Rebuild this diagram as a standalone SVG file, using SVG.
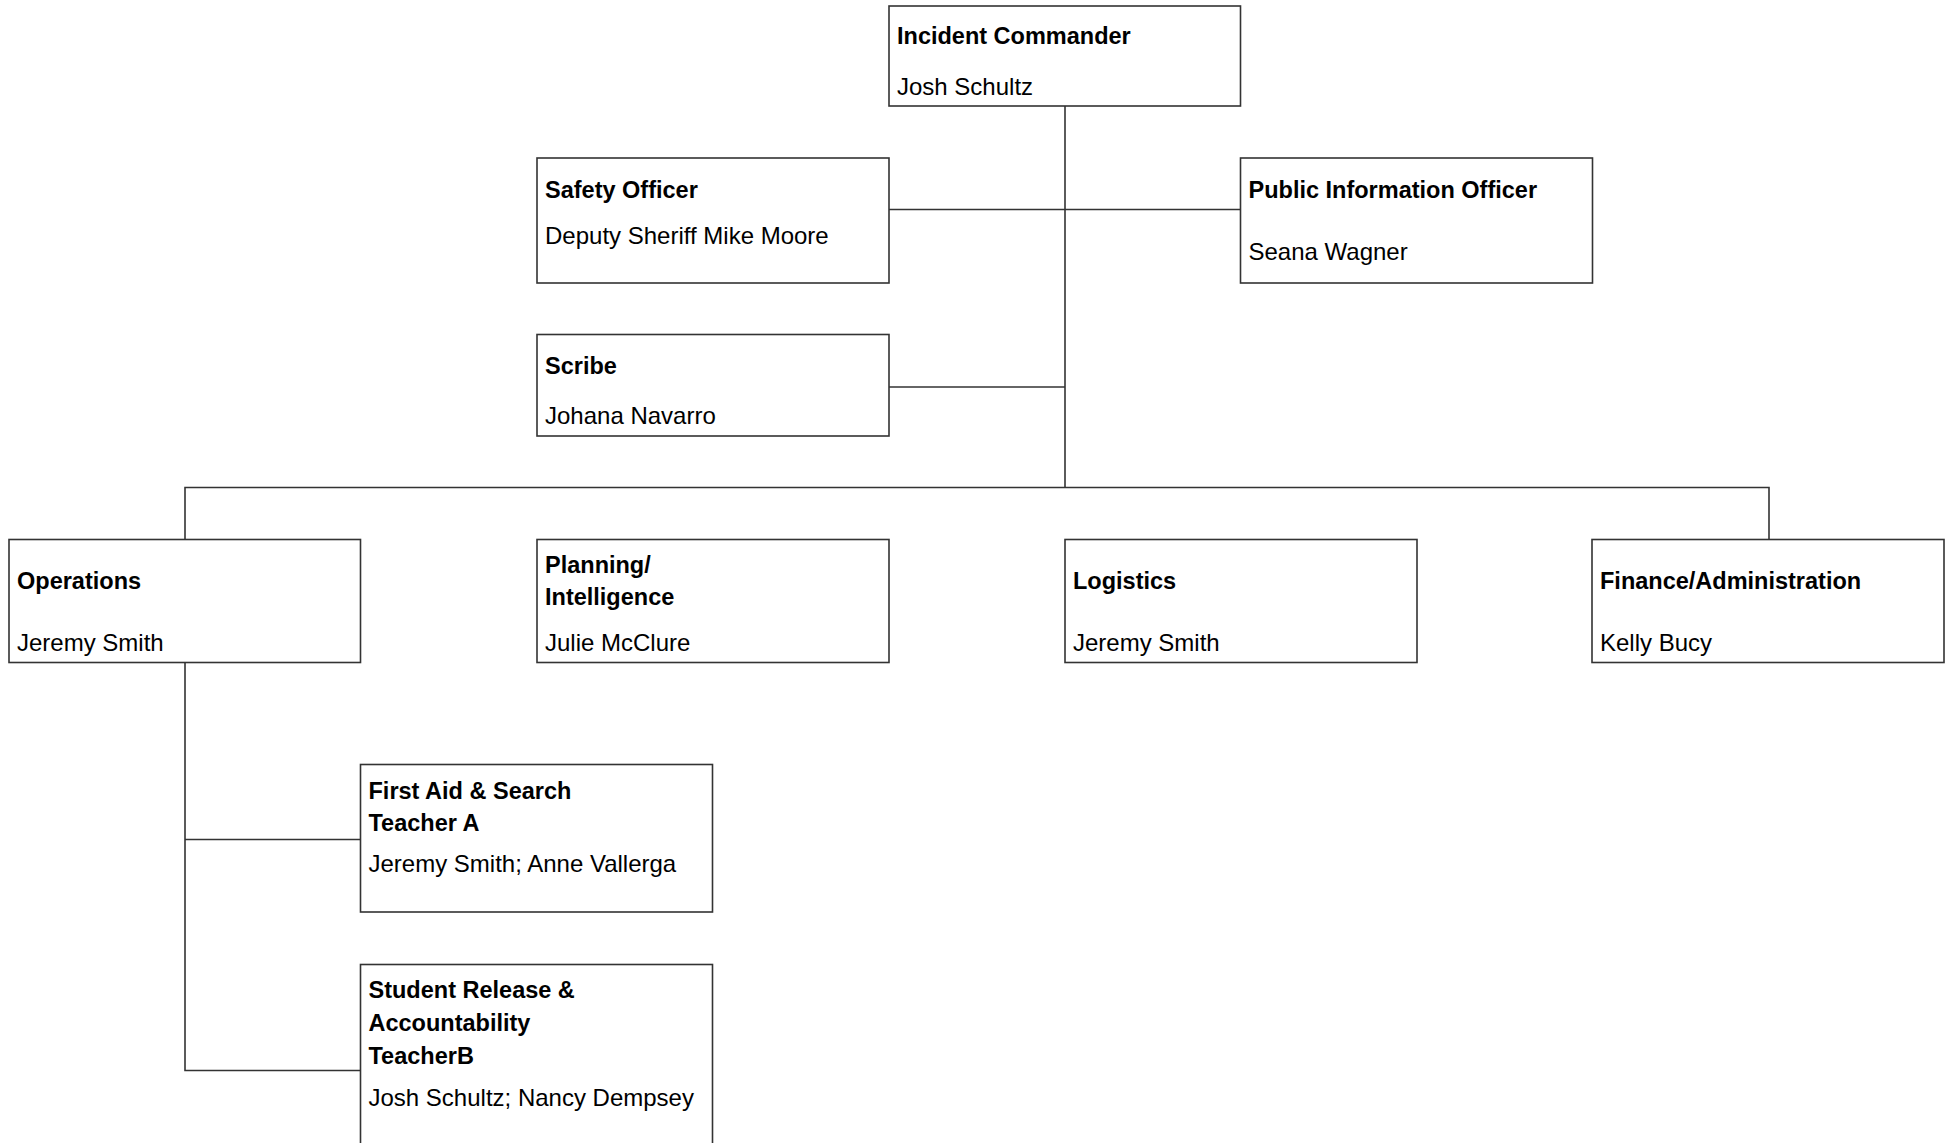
<svg xmlns="http://www.w3.org/2000/svg" width="1949" height="1143" viewBox="0 0 1949 1143">
<style>
.box{fill:#fff;stroke:#333;stroke-width:1.6}
.ln{fill:none;stroke:#333;stroke-width:1.6}
text{font-family:"Liberation Sans",Arial,sans-serif;font-size:24px;fill:#000}
.t{font-weight:bold;font-size:23.5px}
</style>
<rect width="1949" height="1143" fill="#fff"/>
<g id="connectors">
<path class="ln" d="M1065,106V487.5"/>
<path class="ln" d="M889,209.5H1240.5"/>
<path class="ln" d="M889,387H1065"/>
<path class="ln" d="M185,539.5V487.5H1769V539.5"/>
<path class="ln" d="M185,662.5V1070.5H360.5"/>
<path class="ln" d="M185,839.5H360.5"/>
</g>
<g id="incident-commander">
<rect class="box" x="889" y="6" width="351.5" height="100"/>
<text class="t" x="897" y="44">Incident Commander</text>
<text x="897" y="94.5">Josh Schultz</text>
</g>
<g id="safety-officer">
<rect class="box" x="537" y="158" width="352" height="125"/>
<text class="t" x="545" y="197.5">Safety Officer</text>
<text x="545" y="243.5">Deputy Sheriff Mike Moore</text>
</g>
<g id="public-information-officer">
<rect class="box" x="1240.5" y="158" width="352" height="125"/>
<text class="t" x="1248.5" y="197.5">Public Information Officer</text>
<text x="1248.5" y="260">Seana Wagner</text>
</g>
<g id="scribe">
<rect class="box" x="537" y="334.5" width="352" height="101.5"/>
<text class="t" x="545" y="374">Scribe</text>
<text x="545" y="424">Johana Navarro</text>
</g>
<g id="operations">
<rect class="box" x="9" y="539.5" width="351.5" height="123"/>
<text class="t" x="17" y="589">Operations</text>
<text x="17" y="651">Jeremy Smith</text>
</g>
<g id="planning-intelligence">
<rect class="box" x="537" y="539.5" width="352" height="123"/>
<text class="t" x="545" y="573">Planning/</text>
<text class="t" x="545" y="605">Intelligence</text>
<text x="545" y="651">Julie McClure</text>
</g>
<g id="logistics">
<rect class="box" x="1065" y="539.5" width="352" height="123"/>
<text class="t" x="1073" y="589">Logistics</text>
<text x="1073" y="651">Jeremy Smith</text>
</g>
<g id="finance-administration">
<rect class="box" x="1592" y="539.5" width="352" height="123"/>
<text class="t" x="1600" y="589">Finance/Administration</text>
<text x="1600" y="651">Kelly Bucy</text>
</g>
<g id="first-aid-search">
<rect class="box" x="360.5" y="764.5" width="352" height="147.5"/>
<text class="t" x="368.5" y="798.5">First Aid &amp; Search</text>
<text class="t" x="368.5" y="831">Teacher A</text>
<text x="368.5" y="872">Jeremy Smith; Anne Vallerga</text>
</g>
<g id="student-release">
<rect class="box" x="360.5" y="964.5" width="352" height="200"/>
<text class="t" x="368.5" y="998">Student Release &amp;</text>
<text class="t" x="368.5" y="1031">Accountability</text>
<text class="t" x="368.5" y="1063.5">TeacherB</text>
<text x="368.5" y="1105.5">Josh Schultz; Nancy Dempsey</text>
</g>
</svg>
